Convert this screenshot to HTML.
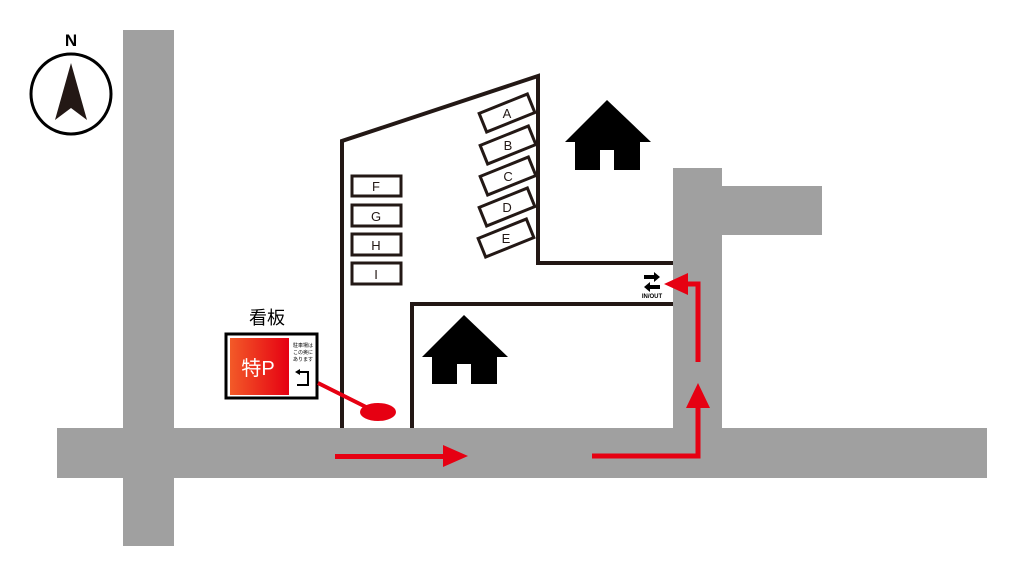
<!DOCTYPE html>
<html><head><meta charset="utf-8"><style>body{margin:0;background:#fff}svg{display:block}</style></head>
<body>
<svg width="1024" height="576" viewBox="0 0 1024 576" xmlns="http://www.w3.org/2000/svg" font-family="'Liberation Sans','Noto Sans CJK JP',sans-serif">
<rect width="1024" height="576" fill="#fff"/>
<g fill="#a0a0a0">
<rect x="123" y="30" width="51" height="516"/>
<rect x="57" y="428" width="930" height="50"/>
<rect x="673" y="168" width="49" height="262"/>
<rect x="722" y="186" width="100" height="49"/>
</g>
<g fill="none" stroke="#231815" stroke-width="4">
<polyline points="342,428 342,141 538,76 538,263 673,263"/>
<polyline points="412,428 412,304 673,304"/>
</g>
<g fill="#fff" stroke="#231815" stroke-width="3" font-size="13" text-anchor="middle">
<rect x="352" y="176" width="49" height="20"/><text x="376" y="191" stroke="none" fill="#231815">F</text>
<rect x="352" y="205" width="49" height="21"/><text x="376" y="221" stroke="none" fill="#231815">G</text>
<rect x="352" y="234" width="49" height="21"/><text x="376" y="250" stroke="none" fill="#231815">H</text>
<rect x="352" y="263" width="49" height="21"/><text x="376" y="279" stroke="none" fill="#231815">I</text>
<g transform="translate(507,113) rotate(-22)"><rect x="-26" y="-10" width="52" height="20"/><text x="0" y="5" stroke="none" fill="#231815" transform="rotate(22)">A</text></g>
<g transform="translate(508,145) rotate(-22)"><rect x="-26" y="-10" width="52" height="20"/><text x="0" y="5" stroke="none" fill="#231815" transform="rotate(22)">B</text></g>
<g transform="translate(508,176) rotate(-22)"><rect x="-26" y="-10" width="52" height="20"/><text x="0" y="5" stroke="none" fill="#231815" transform="rotate(22)">C</text></g>
<g transform="translate(507,207) rotate(-22)"><rect x="-26" y="-10" width="52" height="20"/><text x="0" y="5" stroke="none" fill="#231815" transform="rotate(22)">D</text></g>
<g transform="translate(506,238) rotate(-22)"><rect x="-26" y="-10" width="52" height="20"/><text x="0" y="5" stroke="none" fill="#231815" transform="rotate(22)">E</text></g>
</g>
<g fill="#000">
<polygon points="607,100 565,142 651,142"/>
<rect x="575" y="140" width="65" height="30"/>
<rect x="600" y="150" width="14" height="20" fill="#fff"/>
<polygon points="464,315 422,357 508,357"/>
<rect x="432" y="355" width="65" height="29"/>
<rect x="457" y="364" width="14" height="20" fill="#fff"/>
</g>
<circle cx="71" cy="94" r="40" fill="#fff" stroke="#000" stroke-width="3"/>
<text x="71" y="46" font-size="17" font-weight="bold" text-anchor="middle">N</text>
<polygon points="71,63 55,120 71,108 87,120" fill="#231815"/>
<g fill="#000">
<polygon points="644,275 654,275 654,272 660,277 654,282 654,279 644,279"/>
<polygon points="660,285 650,285 650,282 644,287 650,292 650,289 660,289"/>
<text x="652" y="298" font-size="6" font-weight="bold" text-anchor="middle">IN/OUT</text>
</g>
<text x="267" y="324" font-size="18" text-anchor="middle" fill="#000">看板</text>
<rect x="226" y="334" width="91" height="64" fill="#fff" stroke="#000" stroke-width="3"/>
<defs><linearGradient id="g" x1="0" x2="1"><stop offset="0" stop-color="#f25a28"/><stop offset="1" stop-color="#e60012"/></linearGradient></defs>
<rect x="230" y="338" width="59" height="57" fill="url(#g)"/>
<text x="258" y="375" font-size="20" fill="#fff" text-anchor="middle">特P</text>
<text x="303" y="347" font-size="5" text-anchor="middle">駐車場は</text>
<text x="303" y="354" font-size="5" text-anchor="middle">この奥に</text>
<text x="303" y="361" font-size="5" text-anchor="middle">あります</text>
<polyline points="299,372 308,372 308,385 297,385" fill="none" stroke="#000" stroke-width="2"/>
<polygon points="295,372 300,369 300,375"/>
<line x1="318" y1="383" x2="372" y2="410" stroke="#e60012" stroke-width="4"/>
<ellipse cx="378" cy="412" rx="18" ry="9" fill="#e60012"/>
<g fill="#e60012" stroke="none">
<rect x="335" y="454" width="110" height="5"/>
<polygon points="443,445 468,456 443,467"/>
<polyline points="592,456 698,456 698,405" fill="none" stroke="#e60012" stroke-width="5"/>
<polygon points="686,408 698,383 710,408"/>
<polyline points="698,362 698,284 685,284" fill="none" stroke="#e60012" stroke-width="5"/>
<polygon points="688,273 664,284 688,295"/>
</g>
</svg>
</body></html>
